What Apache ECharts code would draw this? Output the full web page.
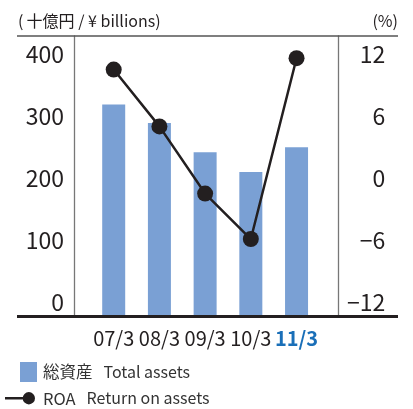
<!DOCTYPE html>
<html>
<head>
<meta charset="utf-8">
<script src="https://cdn.jsdelivr.net/npm/echarts@6/dist/echarts.min.js"></script>
<style>
html,body{margin:0;padding:0;background:#fff;}
#chart{width:413px;height:409px;}
</style>
</head>
<body>
<div id="chart"></div>
<script>
const categories = ['07/3', '08/3', '09/3', '10/3', '11/3'];
const totalAssets = [342, 312, 265, 233, 273];
const roa = [11.9, 6.4, -0.1, -4.5, 13.0];
const unitLeft = '(\u2009十億円 / ¥ billions)';
const unitRight = '(%)';
const legendAssets = ['総資産', 'Total assets'];
const legendRoa = ['ROA', 'Return on assets'];

const tickFont = "'Noto Sans CJK JP', 'Noto Sans', sans-serif";
const textFont = "'Noto Sans CJK JP', 'Noto Sans', sans-serif";
const dark = '#231f20';

const chart = echarts.init(document.getElementById('chart'), null, {renderer: 'canvas'});
chart.setOption({
  animation: false,
  title: [
    {text: unitLeft, left: 13, top: 8, textStyle: {fontFamily: textFont, fontSize: 16, fontWeight: 'normal', color: dark}},
    {text: unitRight, right: 10, top: 8, textStyle: {fontFamily: textFont, fontSize: 16, fontWeight: 'normal', color: dark}}
  ],
  grid: {left: 90.85, right: 93.6, top: 36, bottom: 92.5},
  xAxis: {
    type: 'category',
    data: categories,
    axisLine: {show: false},
    axisTick: {show: false},
    axisLabel: {
      interval: 0,
      margin: 12,
      fontFamily: tickFont,
      fontSize: 20,
      color: dark,
      formatter: (v, i) => i === categories.length - 1 ? '{h|' + v + '}' : v,
      rich: {h: {fontFamily: tickFont, fontSize: 20, fontWeight: 'bold', color: '#1a6fb8'}}
    }
  },
  yAxis: [
    {
      type: 'value', min: 0, max: 452.4, interval: 100,
      offset: 16.85,
      axisLine: {show: true, lineStyle: {color: '#777', width: 1.3}},
      axisTick: {show: false},
      splitLine: {show: false},
      axisLabel: {
        showMaxLabel: false, margin: 10, fontFamily: tickFont, fontSize: 23, color: dark,
        verticalAlign: 'bottom', lineHeight: 28
      }
    },
    {
      type: 'value', min: -12, max: 15.15, interval: 6,
      position: 'right',
      offset: 18.9,
      axisLine: {show: true, lineStyle: {color: '#777', width: 1.3}},
      axisTick: {show: false},
      splitLine: {show: false},
      axisLabel: {
        showMaxLabel: false, margin: 47, align: 'right', fontFamily: tickFont, fontSize: 23, color: dark,
        verticalAlign: 'bottom', lineHeight: 28,
        formatter: v => v < 0 ? '\u2212' + Math.abs(v) : String(v)
      }
    }
  ],
  legend: [
    {
      data: [legendAssets[0]],
      left: 20, top: 362, orient: 'vertical', padding: 0,
      itemWidth: 17, itemHeight: 20, icon: 'rect',
      formatter: n => '{a|' + n + '}{b|' + legendAssets[1] + '}',
      textStyle: {
        fontFamily: textFont, fontSize: 16, color: '#333',
        rich: {a: {fontFamily: textFont, fontSize: 16.5, color: '#333', padding: [0, 0, 0, 1]},
               b: {fontFamily: textFont, fontSize: 16, color: '#333', padding: [0, 0, 0, 11]}}
      }
    },
    {
      data: [legendRoa[0]],
      left: 5, top: 390, orient: 'vertical', padding: 0,
      itemWidth: 30, itemHeight: 12.4,
      icon: 'path://M0,5 L19,5 L19,7.4 L0,7.4 Z M17.8,6.2 A6.2,6.2 0 1 1 30.2,6.2 A6.2,6.2 0 1 1 17.8,6.2 Z',
      formatter: n => '{a|' + n + '}{b|' + legendRoa[1] + '}',
      textStyle: {
        fontFamily: textFont, fontSize: 16, color: '#333',
        rich: {a: {fontFamily: textFont, fontSize: 16.5, color: '#333', padding: [0, 0, 0, 3]},
               b: {fontFamily: textFont, fontSize: 16, color: '#333', padding: [0, 0, 0, 11]}}
      }
    }
  ],
  graphic: [
    {type: 'line', shape: {x1: 17, y1: 36, x2: 398, y2: 36}, style: {stroke: '#555', lineWidth: 1.5}, z: 10},
    {type: 'line', shape: {x1: 17, y1: 316.5, x2: 398, y2: 316.5}, style: {stroke: dark, lineWidth: 3}, z: 10}
  ],
  series: [
    {
      name: legendAssets[0], type: 'bar', yAxisIndex: 0,
      data: totalAssets, barWidth: 23,
      itemStyle: {color: '#7aa0d4'}
    },
    {
      name: legendRoa[0], type: 'line', yAxisIndex: 1,
      data: roa, symbol: 'circle', symbolSize: 16,
      lineStyle: {color: dark, width: 2.5},
      itemStyle: {color: dark},
      z: 5
    }
  ]
});
</script>
</body>
</html>
